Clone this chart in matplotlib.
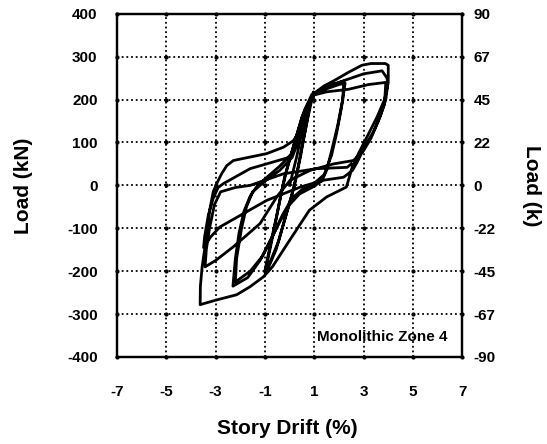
import numpy as np
import matplotlib.pyplot as plt

plt.rcParams['font.family'] = ['Liberation Sans', 'DejaVu Sans']
plt.rcParams['font.weight'] = 'bold'

# axis ticks
drift_ticks = [-7, -5, -3, -1, 1, 3, 5, 7]
load_ticks_kn = [-400, -300, -200, -100, 0, 100, 200, 300, 400]
load_ticks_k = [-90, -67, -45, -22, 0, 22, 45, 67, 90]

# hysteresis trace (drift %, load kN)
# small cycles, about +/-1 %
drift_small = [0.0, 0.3, 0.6, 0.85, 0.97, 0.75, 0.5, 0.3, 0.1, -0.2, -0.55, -0.85, -1.0,
               -0.8, -0.55, -0.35, -0.1, 0.25, 0.6, 0.9, 0.7, 0.45, 0.2, -0.1, -0.45,
               -0.8, -1.0, -0.75, -0.45, -0.2, 0.15, 0.5, 0.92]
load_small = [0, 70, 150, 200, 218, 160, 90, 30, -20, -80, -150, -190, -203,
              -150, -80, -20, 40, 110, 175, 212, 150, 70, 0, -60, -130,
              -180, -198, -130, -50, 20, 90, 160, 210]

# cycles to about +/-2.2 %
drift_mid = [1.3, 1.75, 2.2, 2.15, 1.95, 1.7, 1.5, 1.3, 0.9, 0.4, 0.0, -0.4, -0.8, -1.2,
             -1.7, -2.3, -2.2, -2.05, -1.85, -1.6, -1.3, -0.9, -0.4, 0.1, 0.4, 0.7, 1.0,
             1.5, 2.0, 2.25, 2.1, 1.9, 1.7, 1.4, 1.0, 0.5, 0.1, -0.3, -0.7, -1.1, -1.6,
             -2.2, -2.15, -1.95, -1.75, -1.5]
load_mid = [225, 236, 243, 200, 140, 80, 35, 10, -5, -20, -45, -85, -130, -175,
            -215, -235, -170, -110, -60, -25, 0, 20, 45, 75, 120, 175, 212,
            225, 235, 238, 180, 120, 70, 25, 5, -10, -30, -70, -120, -165, -200,
            -225, -170, -100, -50, -15]

# first large cycle, about +/-3.8 %
drift_big1 = [-1.0, -0.4, 0.1, 0.4, 0.75, 1.0, 1.4, 1.8, 2.37, 2.93, 3.3, 3.88, 4.0,
              4.0, 3.85, 3.55, 3.2, 2.8, 2.55, 2.4, 2.3, 1.5, 0.8, 0.0, -0.7, -1.06,
              -1.6, -2.15, -2.96, -3.63]
load_big1 = [10, 35, 65, 110, 180, 215, 232, 244, 263, 280, 284, 284, 280,
             240, 200, 160, 120, 75, 45, 15, -4, -27, -58, -128, -190, -213,
             -236, -255, -267, -278]

# second large cycle
drift_big2 = [-3.62, -3.55, -3.45, -3.37, -3.25, -3.1, -2.96, -2.76, -2.55, -2.28, -1.6,
              -0.93, -0.25, 0.15, 0.43, 0.7, 0.97, 1.5, 2.19, 3.0, 3.75, 3.95, 3.98,
              3.9, 3.7, 3.4, 3.0, 2.75, 2.55, 2.19, 1.37, 0.43, -0.93, -1.88, -2.83,
              -3.2, -3.49]
load_big2 = [-235, -190, -150, -120, -60, -15, 4, 27, 46, 58, 66,
             74, 89, 104, 128, 174, 213, 228, 244, 260, 267, 250, 235,
             200, 165, 125, 85, 55, 35, 19, 12, -4, -35, -66, -97,
             -120, -145]

# third large cycle
drift_big3 = [-3.45, -3.3, -3.1, -2.9, -2.69, -1.6, 0.02, 0.35, 0.7, 0.95, 1.5, 2.39,
              3.2, 3.9, 3.85, 3.6, 3.3, 3.0, 2.59, 1.78, 0.83, 0.02, -0.5, -1.2, -2.28,
              -3.0, -3.43, -3.38, -3.25, -3.05, -2.8, -2.2, -1.6, -0.25, 1.1, 2.33, 2.5]
load_big3 = [-120, -70, -30, -5, 4, 39, 66, 110, 175, 210, 218, 224,
             235, 240, 190, 150, 110, 81, 58, 50, 35, 12, -25, -89, -143,
             -175, -190, -150, -100, -45, -15, -5, 0, 27, 39, 42, 50]

drift = drift_small + drift_mid + drift_big1 + drift_big2 + drift_big3
load = load_small + load_mid + load_big1 + load_big2 + load_big3

fig = plt.figure(figsize=(5.47, 4.44), dpi=100)
ax = fig.add_axes([0.214, 0.196, 0.631, 0.773])

ax.set_xlim(-7, 7)
ax.set_ylim(-400, 400)
ax.set_xticks(drift_ticks)
ax.set_xticklabels([str(v) for v in drift_ticks])
ax.set_yticks(load_ticks_kn)
ax.set_yticklabels([str(v) for v in load_ticks_kn])
ax.tick_params(axis='x', length=0, pad=20, labelsize=11)
ax.tick_params(axis='y', length=0, pad=14, labelsize=11)

# dotted grid with heavier dots where the lines cross
ax.grid(True, color='black', linestyle=(0, (1, 1.6)), linewidth=1.3)
gx, gy = np.meshgrid(drift_ticks, load_ticks_kn)
ax.plot(gx.ravel(), gy.ravel(), 'k.', ms=4, clip_on=False, zorder=2)

ax.plot(drift, load, color='black', lw=2.0, zorder=3)

for s in ax.spines.values():
    s.set_linewidth(1.6)

ax.text(6.4, -353, 'Monolithic Zone 4', ha='right', va='center', fontsize=11, fontweight='bold')

ax.set_xlabel('Story Drift (%)', fontsize=15, fontweight='bold', va='center')
ax.xaxis.set_label_coords(0.494, -0.207)
ax.set_ylabel('Load (kN)', fontsize=15, fontweight='bold', va='center')
ax.yaxis.set_label_coords(-0.27, 0.5)

ax2 = ax.twinx()
ax2.set_ylim(-400, 400)
ax2.set_yticks(load_ticks_kn)
ax2.set_yticklabels([str(v) for v in load_ticks_k])
ax2.tick_params(axis='y', length=0, pad=8, labelsize=11)
ax2.set_ylabel('Load (k)', fontsize=15, fontweight='bold', rotation=270, va='center')
ax2.yaxis.set_label_coords(1.2, 0.5)
for s in ax2.spines.values():
    s.set_linewidth(1.6)

fig.savefig('out.png', dpi=100)
